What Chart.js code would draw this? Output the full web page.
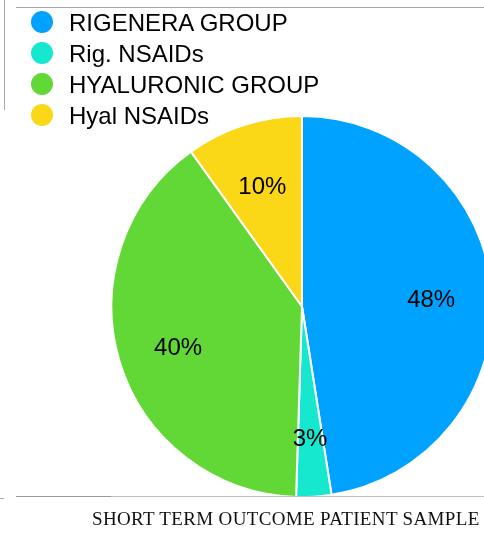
<!DOCTYPE html>
<html>
<head>
<meta charset="utf-8">
<script src="https://cdn.jsdelivr.net/npm/chart.js@4/dist/chart.umd.min.js"></script>
<style>
  html, body { margin: 0; padding: 0; width: 484px; height: 533px; overflow: hidden; background: #ffffff; }
  #wrap { position: relative; width: 484px; height: 533px; overflow: hidden; }
  #chartBox { position: absolute; left: 0; top: 0; width: 604px; height: 533px; }
  .rule { position: absolute; background: #a8a8a8; }
  #legend { position: absolute; left: 31px; top: 11px; margin: 0; padding: 0; list-style: none;
            font-family: "Liberation Sans", Arial, Helvetica, sans-serif; font-size: 24px; color: #000; }
  #legend li { height: 31px; line-height: 23px; display: flex; align-items: flex-start; white-space: nowrap; }
  #legend .dot { width: 22px; height: 22px; border-radius: 50%; margin-right: 16px; flex: none; }
  #caption { position: absolute; left: 92px; top: 508px; font-family: "Liberation Serif", "Times New Roman", serif;
             font-size: 19px; letter-spacing: 0.35px; color: #111; white-space: nowrap; }
</style>
</head>
<body>
<div id="wrap">
  <div id="chartBox"><canvas id="pie"></canvas></div>
  <div class="rule" style="left:4px; top:0; width:1px; height:110px;"></div>
  <div class="rule" style="left:16px; top:7px; width:468px; height:1px;"></div>
  <div class="rule" style="left:16px; top:496px; width:468px; height:1px; background:#bdbdbd;"></div>
  <div class="rule" style="left:16px; top:496px; width:95px; height:1px; background:#9a9a9a;"></div>
  <div class="rule" style="left:0; top:498px; width:4px; height:1px;"></div>
  <ul id="legend"></ul>
  <div id="caption">SHORT TERM OUTCOME PATIENT SAMPLE</div>
</div>
<script>
// Patient groups and their share of the short-term outcome sample (%)
const groups = ["RIGENERA GROUP", "Rig. NSAIDs", "HYALURONIC GROUP", "Hyal NSAIDs"];
const shares = [48, 3, 40, 10];
const groupColors = ["#00A2FF", "#16E7CF", "#61D836", "#FAD717"];

// Legend built from the same arrays
const legendEl = document.getElementById("legend");
groups.forEach((g, i) => {
  const li = document.createElement("li");
  const dot = document.createElement("span");
  dot.className = "dot";
  dot.style.background = groupColors[i];
  li.appendChild(dot);
  li.appendChild(document.createTextNode(g));
  legendEl.appendChild(li);
});

// Percentage text placed inside each slice along its middle angle
const sliceLabels = {
  id: "sliceLabels",
  afterDatasetsDraw(chart) {
    const ctx = chart.ctx;
    const meta = chart.getDatasetMeta(0);
    ctx.save();
    ctx.font = '24px "Liberation Sans", Arial, Helvetica, sans-serif';
    ctx.fillStyle = "#000";
    ctx.textAlign = "center";
    ctx.textBaseline = "middle";
    meta.data.forEach((arc, i) => {
      const p = arc.getProps(["x", "y", "startAngle", "endAngle", "outerRadius"], true);
      const mid = (p.startAngle + p.endAngle) / 2;
      const r = p.outerRadius * 0.68;
      ctx.fillText(shares[i] + "%", p.x + Math.cos(mid) * r, p.y + Math.sin(mid) * r + 4);
    });
    ctx.restore();
  }
};

new Chart(document.getElementById("pie"), {
  type: "pie",
  data: {
    labels: groups,
    datasets: [{
      data: shares,
      backgroundColor: groupColors,
      borderColor: "#ffffff",
      borderWidth: 2
    }]
  },
  options: {
    responsive: true,
    maintainAspectRatio: false,
    animation: false,
    layout: { padding: { top: 115, bottom: 35, left: 0, right: 0 } },
    plugins: {
      legend: { display: false },
      tooltip: { enabled: false },
      title: { display: false }
    }
  },
  plugins: [sliceLabels]
});
</script>
</body>
</html>
